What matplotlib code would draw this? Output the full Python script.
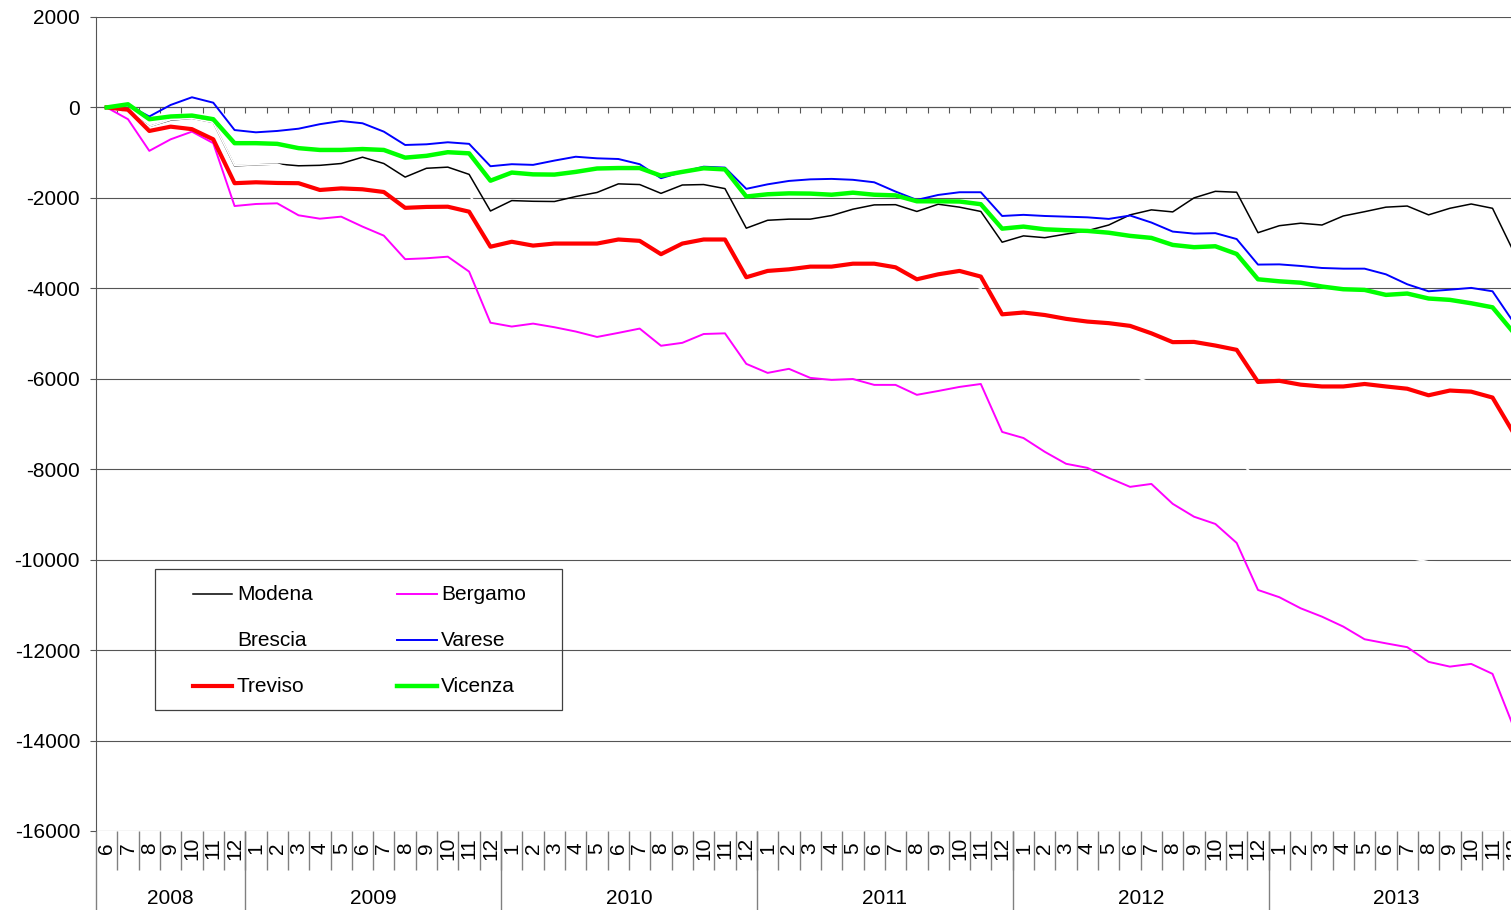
import numpy as np
import matplotlib
matplotlib.use('Agg')
import matplotlib.pyplot as plt
from matplotlib.lines import Line2D
from matplotlib.patches import Rectangle

plt.rcParams['font.family'] = ['Liberation Sans', 'DejaVu Sans']
plt.rcParams['axes.unicode_minus'] = False

# Dati: giugno 2008 - dicembre 2013
months = [6, 7, 8, 9, 10, 11, 12] + list(range(1, 13)) * 5
years = ['2008', '2009', '2010', '2011', '2012', '2013']
year_len = [7, 12, 12, 12, 12, 12]

modena = [0, -90, -420, -280, -240, -330, -1290, -1270, -1250, -1290, -1280, -1240,
          -1100, -1240, -1540, -1345, -1320, -1480, -2290, -2060, -2075, -2080, -1970,
          -1880, -1690, -1705, -1900, -1715, -1705, -1795, -2670, -2495, -2470, -2470,
          -2390, -2250, -2155, -2150, -2300, -2140, -2205, -2300, -2980, -2840, -2880,
          -2800, -2725, -2600, -2375, -2265, -2310, -2000, -1855, -1875, -2770, -2615,
          -2560, -2600, -2400, -2305, -2205, -2180, -2375, -2230, -2135, -2230, -3200]
bergamo = [0, -260, -960, -705, -535, -790, -2180, -2135, -2120, -2385, -2460, -2415,
           -2635, -2835, -3355, -3335, -3300, -3630, -4760, -4845, -4780, -4860, -4955,
           -5075, -4985, -4890, -5270, -5205, -5010, -4995, -5670, -5870, -5780, -5980,
           -6025, -6005, -6135, -6135, -6355, -6270, -6180, -6115, -7175, -7310, -7615,
           -7880, -7970, -8190, -8390, -8325, -8765, -9050, -9210, -9630, -10670, -10830,
           -11075, -11260, -11480, -11760, -11850, -11935, -12260, -12365, -12305, -12525,
           -13715]
brescia = [0, -100, -420, -270, -240, -330, -1280, -1265, -1255, -1400, -1450, -1500,
           -1550, -1650, -1800, -1850, -1900, -1950, -2450, -2450, -2500, -2550, -2550,
           -2600, -2600, -2650, -2750, -2750, -2800, -2800, -3300, -3300, -3350, -3350,
           -3400, -3400, -3500, -3550, -3700, -3750, -3800, -4000, -4900, -5000, -5100,
           -5300, -5500, -5700, -5900, -6100, -6600, -7000, -7400, -7800, -8200, -8500,
           -8800, -9000, -9300, -9600, -9800, -9950, -10050, -10100, -10150, -10300, -10600]
varese = [0, 50, -200, 55, 225, 105, -500, -550, -520, -470, -370, -300, -350, -535,
          -830, -815, -770, -805, -1300, -1255, -1270, -1175, -1090, -1125, -1140, -1255,
          -1565, -1425, -1310, -1330, -1800, -1700, -1625, -1590, -1580, -1600, -1655,
          -1860, -2045, -1935, -1875, -1875, -2400, -2375, -2400, -2415, -2430, -2465,
          -2390, -2545, -2745, -2790, -2780, -2910, -3475, -3470, -3505, -3550, -3565,
          -3565, -3690, -3910, -4065, -4030, -3990, -4065, -4760]
treviso = [0, -50, -520, -425, -480, -705, -1675, -1655, -1670, -1675, -1825, -1790,
           -1810, -1870, -2220, -2200, -2195, -2305, -3080, -2970, -3055, -3010, -3010,
           -3010, -2920, -2950, -3245, -3010, -2920, -2920, -3755, -3615, -3580, -3520,
           -3520, -3455, -3455, -3535, -3800, -3690, -3615, -3740, -4575, -4535, -4590,
           -4675, -4735, -4770, -4830, -4995, -5190, -5185, -5265, -5360, -6070, -6045,
           -6130, -6170, -6170, -6115, -6170, -6220, -6365, -6260, -6285, -6415, -7210]
vicenza = [0, 70, -260, -200, -180, -260, -790, -790, -805, -900, -940, -940, -920,
           -940, -1110, -1070, -990, -1015, -1620, -1440, -1480, -1485, -1425, -1350,
           -1340, -1340, -1510, -1425, -1345, -1370, -1970, -1920, -1900, -1905, -1930,
           -1885, -1930, -1945, -2075, -2075, -2080, -2140, -2680, -2635, -2695, -2715,
           -2730, -2770, -2840, -2885, -3040, -3090, -3070, -3240, -3800, -3845, -3875,
           -3960, -4020, -4035, -4145, -4115, -4225, -4255, -4330, -4420, -4985]

names = ['Modena', 'Bergamo', 'Brescia', 'Varese', 'Treviso', 'Vicenza']
series = [modena, bergamo, brescia, varese, treviso, vicenza]
colors = ['black', '#FF00FF', 'white', '#0000FF', '#FF0000', '#00FF00']
widths = [1.1, 1.4, 1.3, 1.4, 3.0, 3.2]

W, H = 1511, 910
fig = plt.figure(figsize=(W / 100, H / 100), dpi=100)


def fx(px):
    return px / W


def fy(py):
    return 1 - py / H


x = np.arange(len(months))
x_right = 1524.5  # il grafico originale e' tagliato a destra

# Area principale
ax = fig.add_axes([fx(96), fy(831), fx(x_right) - fx(96), fy(17) - fy(831)])
for name, s, c, lw in zip(names, series, colors, widths):
    ax.plot(x, s, color=c, lw=lw, label=name, solid_joinstyle='round', zorder=3)

ax.set_xlim(-0.5, len(months) - 0.5)
ax.set_ylim(-16000, 2000)
ax.set_yticks(np.arange(-16000, 2001, 2000))
ax.yaxis.grid(True, color='#555555', lw=0.8)
ax.set_axisbelow(True)
ax.tick_params(axis='y', direction='out', length=4.5, width=0.8, color='#555555',
               labelsize=15, pad=7)
for sp in ['top', 'right']:
    ax.spines[sp].set_visible(False)
ax.spines['left'].set_color('#555555')
ax.spines['bottom'].set_position(('data', 0))
ax.spines['bottom'].set_color('#555555')
ax.set_xticks(x[:-1] + 0.5)
ax.set_xticklabels([])
ax.tick_params(axis='x', direction='out', length=4.5, width=0.8, color='#555555')

# Tabella delle categorie (mesi / anni)
cax = fig.add_axes([fx(96), 0, fx(x_right) - fx(96), fy(831)])
cax.set_xlim(-0.5, len(months) - 0.5)
cax.set_ylim(0, 1)
cax.axis('off')
month_bottom = (H - 870) / (H - 831)
cax.vlines(x[:-1] + 0.5, month_bottom, 1, color='#808080', lw=1)
bounds = np.concatenate([[0], np.cumsum(year_len)]) - 0.5
cax.vlines(bounds, 0, 1, color='#808080', lw=1, clip_on=False)
for i, m in enumerate(months):
    cax.text(i, (H - 848) / (H - 831), str(m), rotation=90, ha='center', va='center',
             fontsize=15)
for yl, a, b in zip(years, bounds[:-1], bounds[1:]):
    cax.text((a + b) / 2, (H - 898) / (H - 831), yl, ha='center', va='center',
             fontsize=15)

# Legenda (riquadro come nell'originale)
fig.add_artist(Rectangle((fx(155), fy(710)), fx(562) - fx(155), fy(569) - fy(710),
                         transform=fig.transFigure, fill=False, ec='#404040', lw=0.9))
for k in range(len(names)):
    col, row = k % 2, k // 2
    yy = fy(594 + 46 * row)
    hx0, hx1, tx = (193, 232, 237) if col == 0 else (397, 437, 441)
    fig.add_artist(Line2D([fx(hx0), fx(hx1)], [yy, yy], transform=fig.transFigure,
                          color=colors[k], lw=widths[k]))
    fig.text(fx(tx), yy, names[k], ha='left', va='center', fontsize=15)

fig.savefig('out.png', dpi=100)
